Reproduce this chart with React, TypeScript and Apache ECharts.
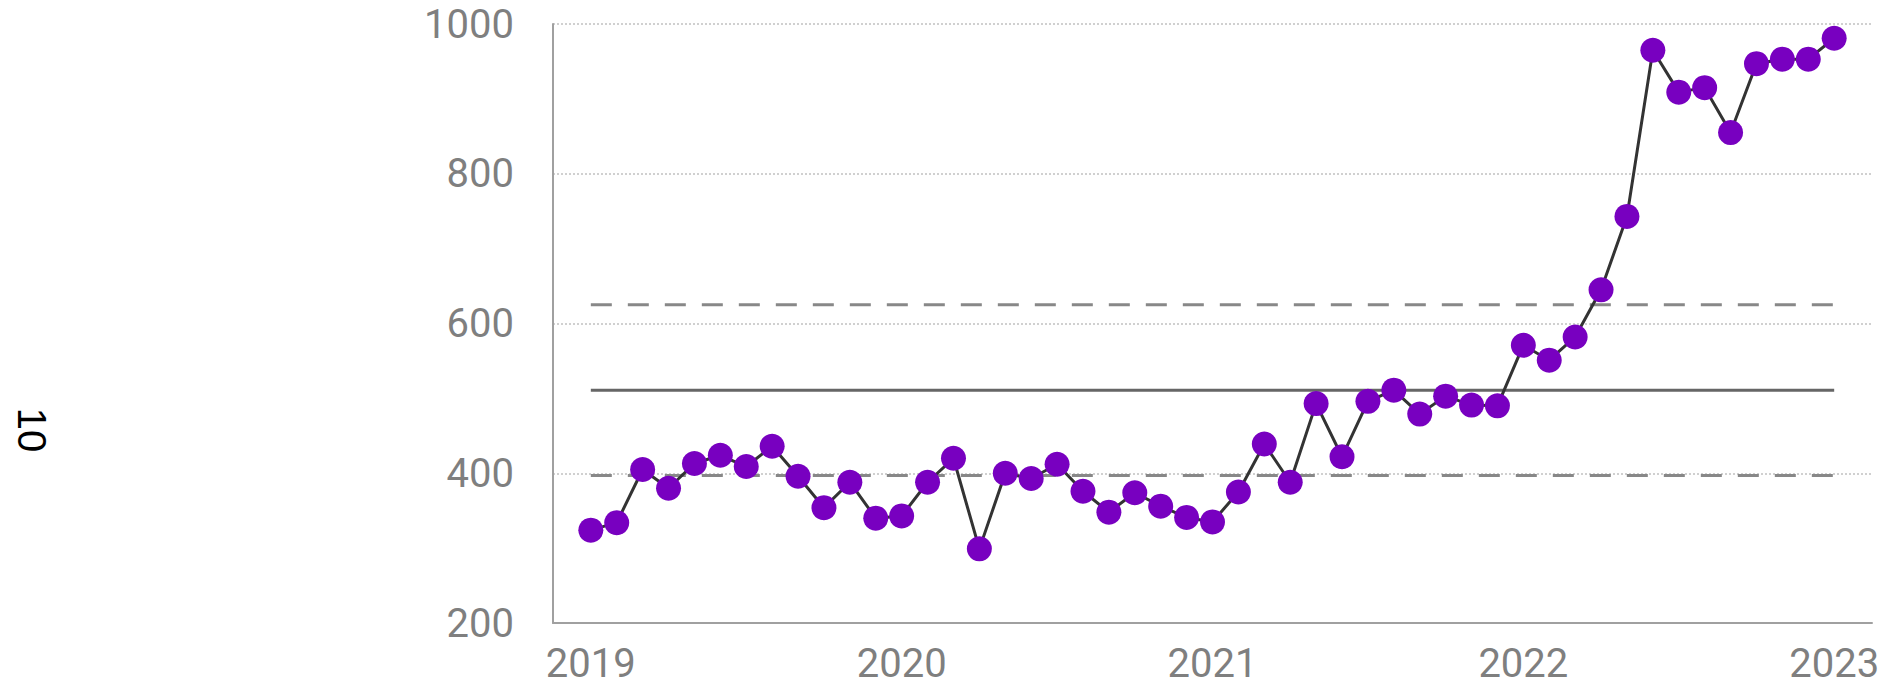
import React, { useEffect, useRef } from "react";
import * as echarts from "echarts";

const months: string[] = [
  "2019-01","2019-02","2019-03","2019-04","2019-05","2019-06","2019-07","2019-08","2019-09","2019-10","2019-11","2019-12",
  "2020-01","2020-02","2020-03","2020-04","2020-05","2020-06","2020-07","2020-08","2020-09","2020-10","2020-11","2020-12",
  "2021-01","2021-02","2021-03","2021-04","2021-05","2021-06","2021-07","2021-08","2021-09","2021-10","2021-11","2021-12",
  "2022-01","2022-02","2022-03","2022-04","2022-05","2022-06","2022-07","2022-08","2022-09","2022-10","2022-11","2022-12",
  "2023-01",
];

const values: number[] = [
  324, 334, 405, 380, 413, 424, 409, 436, 396, 354, 388, 340,
  343, 388, 420, 299, 400, 393, 412, 376, 348, 374, 356, 341,
  335, 375, 439, 388, 493, 422, 496, 511, 479, 503, 491, 490,
  571, 551, 582, 645, 743, 965, 909, 915, 855, 947, 953, 953,
  981,
];

const meanValue = 511;
const upperValue = 625;
const lowerValue = 397;

const yearTickIndex: number[] = [0, 12, 24, 36, 48];
const yearLabels: string[] = ["2019", "2020", "2021", "2022", "2023"];
const yTicks: number[] = [200, 400, 600, 800, 1000];
const axisTitle = "10";

export default function App() {
  const ref = useRef<HTMLDivElement>(null);

  useEffect(() => {
    document.body.style.margin = "0";
    if (!ref.current) return;
    const chart = echarts.init(ref.current, undefined, { renderer: "svg" });

    const lastIdx = months.length - 1;
    const refLine = (v: number) => [[0, v], [lastIdx, v]];

    chart.setOption({
      animation: false,
      backgroundColor: "#ffffff",
      grid: { left: 553, right: 11, top: 24, bottom: 65, containLabel: false },
      xAxis: {
        type: "value",
        min: -1.46,
        max: lastIdx + 1.46,
        axisLine: { show: true, onZero: false, lineStyle: { color: "#a0a0a0", width: 2 } },
        axisTick: { show: false },
        splitLine: { show: false },
        axisLabel: {
          customValues: yearTickIndex,
          formatter: (v: number) => {
            const k = yearTickIndex.indexOf(Math.round(v));
            return k >= 0 ? yearLabels[k] : "";
          },
          color: "#7f7f7f",
          fontFamily: "Roboto, sans-serif",
          fontSize: 40,
          margin: 20,
        },
      },
      yAxis: {
        type: "value",
        min: yTicks[0],
        max: yTicks[yTicks.length - 1],
        interval: 200,
        axisLine: { show: true, onZero: false, lineStyle: { color: "#a0a0a0", width: 2 } },
        axisTick: { show: false },
        splitLine: { show: true, lineStyle: { color: "#d0d0d0", width: 2, type: "dotted" } },
        axisLabel: {
          color: "#7f7f7f",
          fontFamily: "Roboto, sans-serif",
          fontSize: 40,
          margin: 39,
          formatter: (v: number) => String(v),
        },
      },
      graphic: [
        {
          type: "text",
          x: 32,
          y: 430,
          rotation: -Math.PI / 2,
          style: {
            text: axisTitle,
            fill: "#000000",
            font: "40px 'Liberation Sans', Arial, sans-serif",
            textAlign: "center",
            textVerticalAlign: "middle",
          },
        },
      ],
      series: [
        {
          type: "line",
          data: refLine(upperValue),
          symbol: "none",
          silent: true,
          lineStyle: { color: "#888888", width: 3, type: [21, 16] },
          z: 1,
        },
        {
          type: "line",
          data: refLine(lowerValue),
          symbol: "none",
          silent: true,
          lineStyle: { color: "#888888", width: 3, type: [21, 16] },
          z: 1,
        },
        {
          type: "line",
          data: refLine(meanValue),
          symbol: "none",
          silent: true,
          lineStyle: { color: "#666666", width: 3 },
          z: 1,
        },
        {
          type: "line",
          data: values.map((v, i) => [i, v]),
          symbol: "circle",
          symbolSize: 25,
          itemStyle: { color: "#7800c0", borderWidth: 0 },
          lineStyle: { color: "#333333", width: 3 },
          z: 3,
        },
      ],
    });

    return () => chart.dispose();
  }, []);

  return <div ref={ref} style={{ width: 1883, height: 688 }} />;
}
